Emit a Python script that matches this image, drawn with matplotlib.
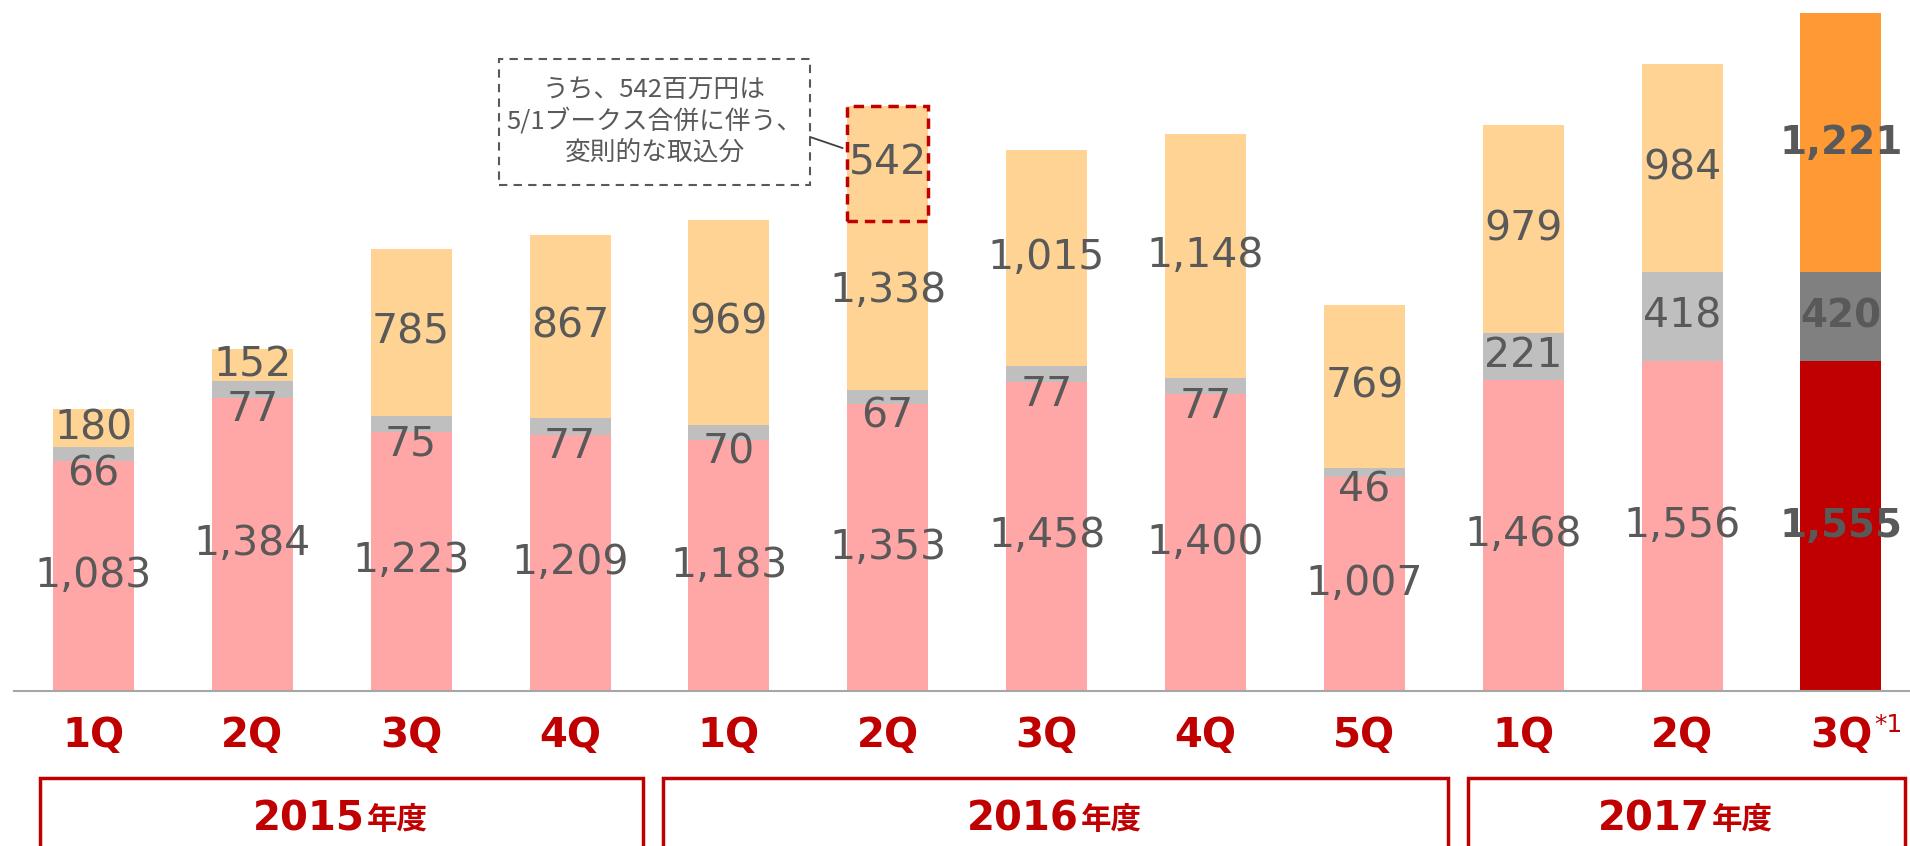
import matplotlib
matplotlib.use('Agg')
import matplotlib.pyplot as plt
import matplotlib.transforms as mtransforms
from matplotlib.patches import Rectangle
import numpy as np

plt.rcParams['font.family'] = ['DejaVu Sans', 'Noto Sans CJK JP']

# data (millions of yen)
quarters = ['1Q', '2Q', '3Q', '4Q', '1Q', '2Q', '3Q', '4Q', '5Q', '1Q', '2Q', '3Q']
bottom_vals = [1083, 1384, 1223, 1209, 1183, 1353, 1458, 1400, 1007, 1468, 1556, 1555]
middle_vals = [66, 77, 75, 77, 70, 67, 77, 77, 46, 221, 418, 420]
top_vals = [180, 152, 785, 867, 969, 1338, 1015, 1148, 769, 979, 984, 1221]
years = ['2015', '2016', '2017']
note_bar = 5
note_value = 542
note_text = 'うち、542百万円は\n5/1ブークス合併に伴う、\n変則的な取込分'

RED = '#C00000'
LABEL = '#595959'
pale = ['#FFA6A6', '#BFBFBF', '#FED394']
strong = ['#C00000', '#808080', '#FF9933']

fig = plt.figure(figsize=(19.1, 8.46), dpi=100)
ax = fig.add_axes([14 / 1910, 155 / 846, 1 - 14 / 1910, 691 / 846])

x = np.arange(len(quarters))
width = 0.51
last = len(quarters) - 1
bottom = np.array(bottom_vals)
middle = np.array(middle_vals)
top = np.array(top_vals)

c_bot = [strong[0] if i == last else pale[0] for i in x]
c_mid = [strong[1] if i == last else pale[1] for i in x]
c_top = [strong[2] if i == last else pale[2] for i in x]

ax.bar(x, bottom, width, color=c_bot)
ax.bar(x, middle, width, bottom=bottom, color=c_mid)
ax.bar(x, top, width, bottom=bottom + middle, color=c_top)

ax.set_xlim(-0.5, 11.435)
ax.set_ylim(0, 3259)
for s in ['left', 'right', 'top']:
    ax.spines[s].set_visible(False)
ax.spines['bottom'].set_color('#A6A6A6')
ax.spines['bottom'].set_linewidth(1.5)
ax.set_xticks([])
ax.set_yticks([])

# value labels
for i in x:
    b, m, t = bottom[i], middle[i], top[i]
    if i == last:
        kw = dict(fontsize=28, fontweight='bold', color=LABEL)
    else:
        kw = dict(fontsize=29.5, color=LABEL)
    ax.text(i, b / 2, f'{b:,}', ha='center', va='center', **kw)
    # thin grey segments: label sits just below the segment
    my = b + m / 2 if m > 150 else b - 60
    ax.text(i, my, f'{m:,}', ha='center', va='center', **kw)
    if i == note_bar:
        ty = b + m + (t - note_value) / 2 + 70
    else:
        ty = b + m + t / 2
    ax.text(i, ty, f'{t:,}', ha='center', va='center', **kw)

# the 542 part, outlined
nb = note_bar
ntop = bottom[nb] + middle[nb] + top[nb]
ax.add_patch(Rectangle((nb - width / 2, ntop - note_value), width, note_value,
                       fill=False, edgecolor=RED, linewidth=2.5, linestyle=(0, (3, 2))))
ax.text(nb, ntop - note_value / 2, f'{note_value}', ha='center', va='center',
        fontsize=29.5, color=LABEL)

# callout box
ax.add_patch(Rectangle((2.553, 2387), 1.958, 594, fill=False, edgecolor=LABEL,
                       linewidth=1.5, linestyle=(0, (4, 3))))
ax.text(3.532, 2688, note_text, ha='center', va='center', fontsize=18.5,
        color=LABEL, family=['Noto Sans CJK JP'], linespacing=1.25)
ax.plot([4.511, nb - width / 2 - 0.03], [2613, 2561], color='#404040', linewidth=1.3)

# quarter labels
trans = mtransforms.blended_transform_factory(ax.transData, fig.transFigure)
for i, q in zip(x, quarters):
    t = ax.text(i, 99 / 846, q, transform=trans, ha='center', va='baseline',
                fontsize=29, fontweight='bold', color=RED, clip_on=False)
    if i == last:
        ax.annotate('*1', xy=(1.0, 1.08), xycoords=t, xytext=(2, 0),
                    textcoords='offset points', ha='left', va='top',
                    fontsize=18, color=RED)

# fiscal year boxes
edges = [(-0.337, 3.459), (3.585, 8.527), (8.653, 11.404)]
for (l, r), yr in zip(edges, years):
    ax.add_patch(Rectangle((l, -20 / 846), r - l, 88 / 846, transform=trans,
                           fill=False, edgecolor=RED, linewidth=2.5, clip_on=False))
    cx = (l + r) / 2
    t = ax.annotate(yr, xy=(cx, 16 / 846), xycoords=trans, xytext=(17, 0),
                    textcoords='offset points', ha='right', va='baseline',
                    fontsize=29, fontweight='bold', color=RED, annotation_clip=False)
    ax.annotate('年度', xy=(1.0, 0.0), xycoords=t, xytext=(1, 2),
                textcoords='offset points', ha='left', va='bottom',
                fontsize=22, fontweight='bold', color=RED,
                family=['Noto Sans CJK JP'])

fig.savefig('out.png', dpi=100)
